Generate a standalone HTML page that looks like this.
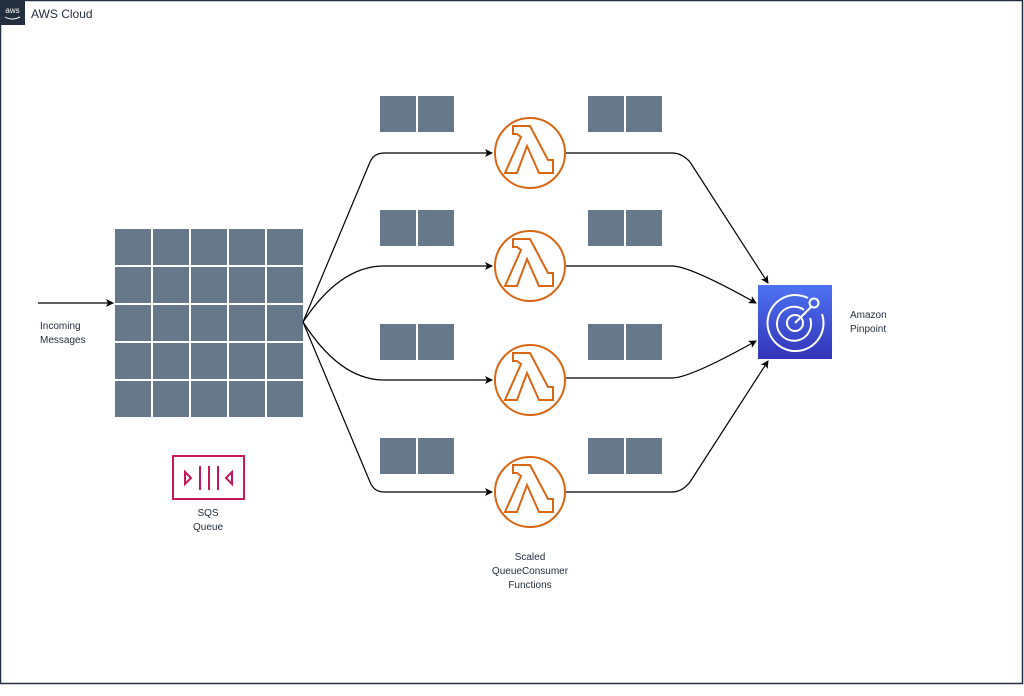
<!DOCTYPE html>
<html><head><style>
body{margin:0;background:#fff;width:1024px;height:691px;overflow:hidden;font-family:"Liberation Sans",sans-serif}
</style></head><body>
<svg width="1024" height="691" xmlns="http://www.w3.org/2000/svg" font-family="Liberation Sans, sans-serif">
<rect x="0.5" y="0.5" width="1022" height="683" fill="#fff" stroke="#232f3e" stroke-width="1.5"/>
<rect x="0" y="0" width="25" height="25" fill="#232f3e"/>
<text x="12.5" y="13" font-size="8" fill="#fff" text-anchor="middle">aws</text>
<path d="M5 17 Q12 21 20 17" stroke="#fff" fill="none" stroke-width="1"/>
<text x="31" y="18" font-size="12" fill="#232f3e">AWS Cloud</text>
<g fill="#66788a">
<g id="row">
<rect x="115" y="229" width="36" height="36"/><rect x="153" y="229" width="36" height="36"/><rect x="191" y="229" width="36" height="36"/><rect x="229" y="229" width="36" height="36"/><rect x="267" y="229" width="36" height="36"/>
</g>
<use href="#row" y="38"/><use href="#row" y="76"/><use href="#row" y="114"/><use href="#row" y="152"/>
<g id="pair"><rect x="380" y="96" width="36" height="36"/><rect x="418" y="96" width="36" height="36"/><rect x="588" y="96" width="36" height="36"/><rect x="626" y="96" width="36" height="36"/></g>
<use href="#pair" y="114"/><use href="#pair" y="228"/><use href="#pair" y="342"/>
</g>
<defs><marker id="a" markerWidth="8" markerHeight="8" refX="7" refY="4" orient="auto" markerUnits="userSpaceOnUse"><path d="M0,0 L8,4 L0,8 L2,4 Z" fill="#000"/></marker>
<g id="lam"><circle cx="0" cy="0" r="35" fill="#fff" stroke="#d86613" stroke-width="2"/>
<path d="M-17,-27 L0,-27 L18,7 L23,7 L23,20 L9,20 L-3,-7 L-13,20 L-25,20 L-9,-16 L-13,-19 L-17,-19 Z" fill="none" stroke="#d86613" stroke-width="2" stroke-linejoin="miter"/></g></defs>
<g stroke="#000" fill="none" stroke-width="1.2">
<line x1="38" y1="303" x2="113" y2="303" marker-end="url(#a)"/>
<path d="M303,322 L370,162 Q374,153 384,153 L492,153" marker-end="url(#a)"/>
<path d="M303,322 Q340,266 384,266 L492,266" marker-end="url(#a)"/>
<path d="M303,322 Q340,380 384,380 L492,380" marker-end="url(#a)"/>
<path d="M303,322 L370,482 Q374,492 384,492 L492,492" marker-end="url(#a)"/>
<path d="M566,153 L672,153 Q682,153 690,162 L768,283" marker-end="url(#a)"/>
<path d="M566,266 L672,266 Q690,266 756,303" marker-end="url(#a)"/>
<path d="M566,378 L672,378 Q690,378 756,341" marker-end="url(#a)"/>
<path d="M566,492 L672,492 Q682,492 690,482 L768,361" marker-end="url(#a)"/>
</g>
<use href="#lam" x="530" y="153"/><use href="#lam" x="530" y="266"/><use href="#lam" x="530" y="380"/><use href="#lam" x="530" y="492"/>
<defs><linearGradient id="g" x1="0" y1="1" x2="0" y2="0"><stop offset="0" stop-color="#3334b9"/><stop offset="1" stop-color="#4d72f3"/></linearGradient></defs>
<rect x="758" y="285" width="74" height="74" fill="url(#g)"/>
<g stroke="#fff" fill="none" stroke-width="2">
<path d="M808,298 A28,28 0 1 0 822,314"/>
<path d="M804,310 A17,17 0 1 0 810,318"/>
<circle cx="795" cy="323" r="8"/>
<line x1="795" y1="323" x2="812" y2="306"/>
<circle cx="814" cy="303" r="4.5"/>
</g>
<text x="850" y="318" font-size="10" fill="#232f3e">Amazon</text>
<text x="850" y="332" font-size="10" fill="#232f3e">Pinpoint</text>
<text x="40" y="329" font-size="10" fill="#232f3e">Incoming</text>
<text x="40" y="343" font-size="10" fill="#232f3e">Messages</text>
<g stroke="#c7175b" stroke-width="2" fill="none">
<rect x="173" y="456" width="71" height="43"/>
<line x1="200" y1="466" x2="200" y2="490"/><line x1="209" y1="466" x2="209" y2="490"/><line x1="218" y1="466" x2="218" y2="490"/>
<path d="M185,472 L191,478 L185,484 Z"/><path d="M232,472 L226,478 L232,484 Z"/>
</g>
<text x="208" y="516" font-size="10" fill="#232f3e" text-anchor="middle">SQS</text>
<text x="208" y="530" font-size="10" fill="#232f3e" text-anchor="middle">Queue</text>
<text x="530" y="560" font-size="10" fill="#232f3e" text-anchor="middle">Scaled</text>
<text x="530" y="574" font-size="10" fill="#232f3e" text-anchor="middle">QueueConsumer</text>
<text x="530" y="588" font-size="10" fill="#232f3e" text-anchor="middle">Functions</text>
</svg>
</body></html>
